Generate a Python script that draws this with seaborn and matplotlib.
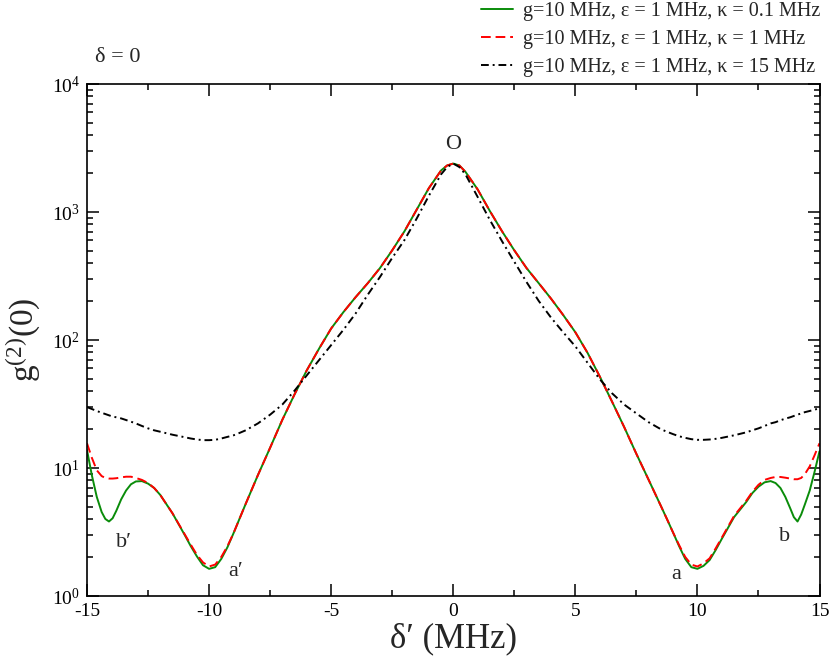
import numpy as np
import pandas as pd
import matplotlib
matplotlib.use('Agg')
import matplotlib.pyplot as plt
from matplotlib.ticker import MultipleLocator, LogLocator, NullFormatter
import seaborn as sns

# detuning delta' (MHz)
delta = [-15, -14.8, -14.6, -14.4, -14.25, -14.1, -13.95, -13.8, -13.6, -13.4,
         -13.2, -13.0, -12.75, -12.5, -12.25, -12.0, -11.5, -11.0, -10.75, -10.5,
         -10.25, -10.0, -9.75, -9.5, -9.25, -9.0, -8.75, -8.5, -8.0, -7.5,
         -7.0, -6.5, -6.0, -5.5, -5.0, -4.5, -4.0, -3.5, -3.0, -2.5,
         -2.0, -1.5, -1.0, -0.5, -0.25, 0.0,
         0.25, 0.5, 1.0, 1.5, 2.0, 2.5, 3.0, 3.5, 4.0, 4.5,
         5.0, 5.5, 6.0, 6.5, 7.0, 7.5, 8.0, 8.5, 8.75, 9.0,
         9.25, 9.5, 9.75, 10.0, 10.25, 10.5, 10.75, 11.0, 11.5, 12.0,
         12.25, 12.5, 12.75, 13.0, 13.2, 13.4, 13.6, 13.8, 13.95, 14.1,
         14.25, 14.4, 14.6, 14.8, 15.0]

# g2(0) for kappa = 0.1 MHz
g2_k01 = [13.8, 8.75, 5.95, 4.53, 4.0, 3.82, 4.05, 4.63, 5.69, 6.67,
          7.46, 7.85, 7.9, 7.55, 6.98, 6.16, 4.43, 3.0, 2.45, 2.04,
          1.74, 1.63, 1.68, 1.95, 2.40, 3.09, 4.03, 5.25, 8.8, 14.4,
          23.8, 37.6, 57.9, 85.3, 123, 165, 216, 278, 365, 502,
          706, 1041, 1535, 2110, 2310, 2390,
          2310, 2060, 1500, 1017, 706, 502, 365, 278, 211, 157,
          115, 79.4, 51.9, 33.1, 20.9, 12.9, 8.1, 5.07, 4.0, 3.14,
          2.45, 1.95, 1.68, 1.63, 1.72, 1.91, 2.29, 2.80, 4.13, 5.43,
          6.37, 7.14, 7.73, 7.9, 7.63, 6.98, 5.95, 4.85, 4.13, 3.82,
          4.33, 5.19, 6.67, 9.37, 13.5]

# g2(0) for kappa = 1 MHz
g2_k1 = [15.6, 12.0, 9.6, 8.65, 8.36, 8.27, 8.27, 8.32, 8.45, 8.55,
         8.55, 8.36, 8.07, 7.63, 6.98, 6.16, 4.43, 3.04, 2.52, 2.10,
         1.83, 1.70, 1.76, 2.02, 2.45, 3.09, 4.03, 5.25, 8.8, 14.4,
         23.8, 37.6, 57.9, 85.3, 123, 165, 216, 278, 365, 502,
         706, 1041, 1535, 2110, 2310, 2390,
         2310, 2060, 1500, 1017, 706, 502, 365, 278, 211, 157,
         115, 79.4, 51.9, 33.1, 20.9, 12.9, 8.1, 5.07, 4.0, 3.14,
         2.50, 2.02, 1.76, 1.70, 1.80, 1.97, 2.36, 2.86, 4.22, 5.55,
         6.51, 7.39, 8.07, 8.36, 8.51, 8.51, 8.4, 8.27, 8.17, 8.17,
         8.36, 8.95, 10.3, 12.6, 15.6]

# g2(0) for kappa = 15 MHz
g2_k15 = [29.9, 28.9, 27.9, 27.0, 26.4, 25.8, 25.2, 24.9, 24.4, 23.7,
          23.0, 22.3, 21.3, 20.4, 19.7, 19.2, 18.2, 17.4, 17.0, 16.7,
          16.5, 16.5, 16.6, 17.0, 17.5, 18.0, 18.8, 19.7, 22.3, 26.1,
          31.3, 40.2, 52.9, 69.5, 91.3, 120, 161, 226, 311, 438,
          603, 887, 1338, 1968, 2245, 2390,
          2245, 1968, 1310, 866, 590, 409, 284, 202, 150, 115,
          89.2, 66.4, 49.4, 38.4, 31.3, 26.7, 22.8, 20.1, 19.2, 18.4,
          17.7, 17.2, 16.8, 16.6, 16.6, 16.7, 16.9, 17.2, 18.0, 19.0,
          19.7, 20.4, 21.3, 22.3, 22.8, 23.6, 24.3, 24.9, 25.5, 26.1,
          26.7, 27.3, 27.9, 28.6, 29.2]

labels = ['g=10 MHz, ε = 1 MHz, κ = 0.1 MHz',
          'g=10 MHz, ε = 1 MHz, κ = 1 MHz',
          'g=10 MHz, ε = 1 MHz, κ = 15 MHz']
colors = ['#0a8c0a', '#ff0000', '#000000']
dash_styles = ['', (5, 2.5), (4, 2, 1, 2)]

sns.set_style('ticks')
plt.rcParams['font.family'] = ['Liberation Serif', 'DejaVu Serif']
plt.rcParams['mathtext.fontset'] = 'custom'
plt.rcParams['mathtext.rm'] = 'Liberation Serif'
plt.rcParams['mathtext.it'] = 'Liberation Serif:italic'
plt.rcParams['mathtext.default'] = 'regular'
plt.rcParams['axes.unicode_minus'] = False

df = pd.concat([
    pd.DataFrame({'delta': delta, 'g2': g2_k01, 'case': labels[0]}),
    pd.DataFrame({'delta': delta, 'g2': g2_k1, 'case': labels[1]}),
    pd.DataFrame({'delta': delta, 'g2': g2_k15, 'case': labels[2]}),
], ignore_index=True)

fig = plt.figure(figsize=(8.3, 6.59), dpi=100)
ax = fig.add_axes([87 / 830, 63 / 659, 732.5 / 830, 512 / 659])

sns.lineplot(data=df, x='delta', y='g2', hue='case', style='case',
             hue_order=labels, style_order=labels,
             palette=dict(zip(labels, colors)),
             dashes=dict(zip(labels, dash_styles)),
             linewidth=1.4, ax=ax)

ax.set_yscale('log')
ax.set_xlim(-15, 15)
ax.set_ylim(1, 1e4)
ax.xaxis.set_major_locator(MultipleLocator(5))
ax.xaxis.set_minor_locator(MultipleLocator(2.5))
ax.yaxis.set_major_locator(LogLocator(base=10, numticks=10))
ax.yaxis.set_minor_locator(LogLocator(base=10, subs=np.arange(2, 10), numticks=50))
ax.yaxis.set_minor_formatter(NullFormatter())
ax.tick_params(which='both', direction='in', top=True, right=True,
               labelsize=14, width=1.1, colors='black')
ax.tick_params(which='major', length=8.6, pad=5)
ax.tick_params(which='minor', length=4.3)
for sp in ax.spines.values():
    sp.set_linewidth(1.2)
    sp.set_color('black')

ax.set_xlabel('δ′ (MHz)', fontsize=25)
ax.set_ylabel(r'g$^{(2)}$(0)', fontsize=24)
ax.xaxis.set_label_coords(0.5, -0.052)
ax.yaxis.set_label_coords(-0.06, 0.5)

# point labels
ax.text(0, 3340, 'O', fontsize=16, ha='center', va='center')
ax.text(-13.5, 2.64, 'b′', fontsize=16, ha='center', va='center')
ax.text(-8.9, 1.55, 'a′', fontsize=16, ha='center', va='center')
ax.text(9.15, 1.46, 'a', fontsize=16, ha='center', va='center')
ax.text(13.57, 2.94, 'b', fontsize=16, ha='center', va='center')

fig.text(95 / 830, 1 - 57.5 / 659, 'δ = 0', fontsize=16, ha='left', va='center')

handles, labs = ax.get_legend_handles_labels()
ax.get_legend().remove()
fig.legend(handles, labs, loc='upper right', bbox_to_anchor=(822 / 830, 1.0),
           frameon=False, fontsize=14.5, handlelength=1.55, handletextpad=0.5,
           labelspacing=0.45, borderpad=0.1, borderaxespad=0)

fig.savefig('out.png', dpi=100)
